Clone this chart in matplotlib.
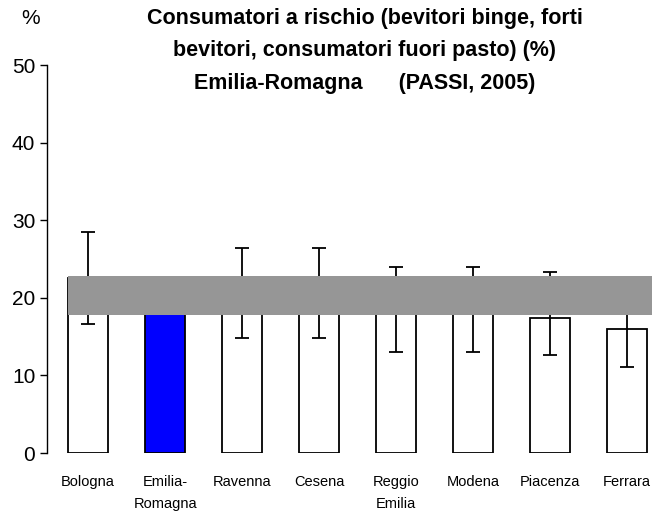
import matplotlib
matplotlib.use("Agg")
import matplotlib.pyplot as plt

plt.rcParams["font.family"] = ["Liberation Sans", "DejaVu Sans"]

# data
provinces = ["Bologna", "Emilia-\nRomagna", "Ravenna", "Cesena", "Reggio\nEmilia",
             "Modena", "Piacenza", "Ferrara"]
values = [22.5, 20.3, 20.6, 20.6, 18.5, 18.5, 17.4, 16.0]
ci_low = [16.6, 18.2, 14.8, 14.8, 13.0, 13.0, 12.6, 11.1]
ci_high = [28.5, 22.4, 26.4, 26.4, 24.0, 24.0, 23.3, 20.9]
region_low = 17.8
region_high = 22.8

colors = ["white"] * len(provinces)
colors[1] = "#0000ff"

fig = plt.figure(figsize=(6.55, 5.21), dpi=100)
ax = fig.add_axes([0.072, 0.1305, 0.923, 0.7445])

x = list(range(len(provinces)))
err = [[v - lo for v, lo in zip(values, ci_low)],
       [hi - v for v, hi in zip(values, ci_high)]]
ax.bar(x, values, width=0.52, color=colors, edgecolor="black", linewidth=1.3, zorder=2)
ax.errorbar(x, values, yerr=err, fmt="none", ecolor="black", elinewidth=1.3,
            capsize=5, capthick=1.3, zorder=3)

# regional confidence band
ax.fill_between([-0.26, 7.32], region_low, region_high, color="#969696", zorder=4,
                linewidth=0)

ax.set_xlim(-0.532, 7.32)
ax.set_ylim(0, 50)
ax.set_yticks([0, 10, 20, 30, 40, 50])
ax.set_xticks(x)
ax.set_xticklabels(provinces, fontsize=10.5, linespacing=1.75)
ax.tick_params(axis="x", length=0, pad=16)
ax.tick_params(axis="y", labelsize=15, length=5, width=1, direction="out")
for s in ["top", "right", "bottom"]:
    ax.spines[s].set_visible(False)
ax.spines["left"].set_linewidth(1)

fig.text(0.557, 0.985, "Consumatori a rischio (bevitori binge, forti\n"
         "bevitori, consumatori fuori pasto) (%)\n"
         "Emilia-Romagna      (PASSI, 2005)",
         ha="center", va="top", fontsize=15.5, fontweight="bold", linespacing=1.72)
fig.text(0.046, 0.982, "%", ha="center", va="top", fontsize=15)

fig.savefig("out.png", dpi=100)
